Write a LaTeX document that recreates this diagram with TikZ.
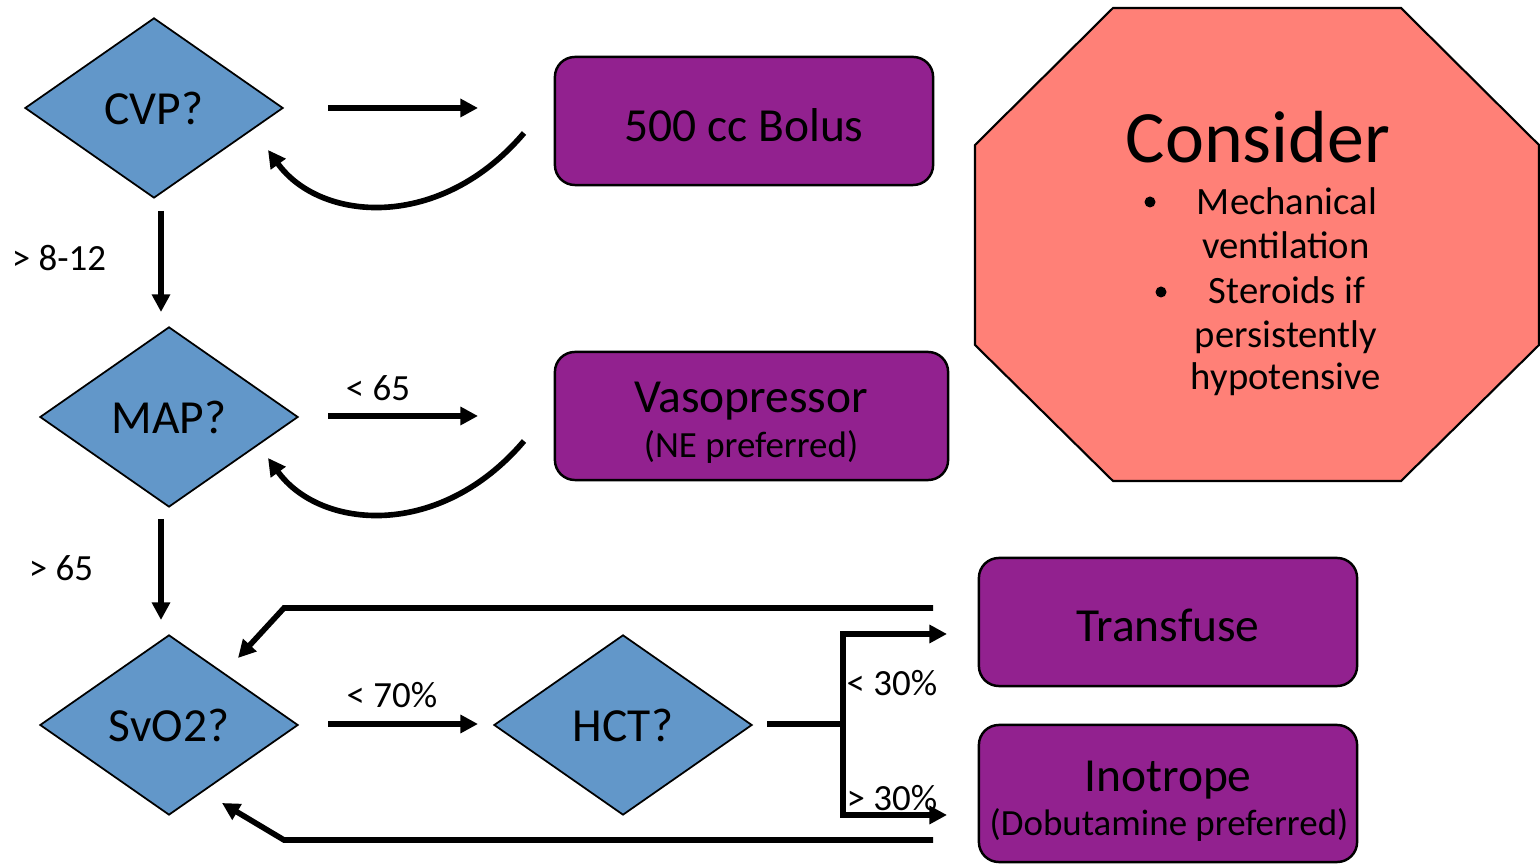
\documentclass[tikz,border=0pt]{standalone}
\usepackage{fontspec}
\setmainfont{Carlito}
\usetikzlibrary{arrows.meta,shapes.geometric}
\definecolor{dblue}{RGB}{98,151,201}
\definecolor{dpurple}{RGB}{146,33,143}
\definecolor{salmon}{RGB}{255,128,119}
\begin{document}
\begin{tikzpicture}[x=0.01cm,y=-0.01cm,
  dec/.style={diamond,draw=black,line width=0.5pt,fill=dblue,aspect=1.43,minimum width=2.58cm,minimum height=1.8cm,inner sep=0pt,font=\fontsize{13.5}{16}\selectfont},
  act/.style={rectangle,rounded corners=0.2cm,draw=black,line width=0.7pt,fill=dpurple,inner sep=0pt},
  big/.style={font=\fontsize{13.5}{16}\selectfont,inner sep=0pt,anchor=base},
  small/.style={font=\fontsize{10.5}{12}\selectfont,inner sep=0pt,anchor=base},
  arr/.style={line width=1.6pt,-{Triangle[length=5pt,width=5pt]}},
  ln/.style={line width=1.6pt},
  lbl/.style={font=\fontsize{10.5}{12}\selectfont,inner sep=0pt},
  oct/.style={font=\fontsize{11}{13}\selectfont,inner sep=0pt,anchor=base},
  bul/.style={circle,fill=black,inner sep=0pt,minimum size=0.11cm}]
\useasboundingbox (0,0) rectangle (1540,865);

% octagon
\draw[fill=salmon,line width=0.6pt] (1113,8) -- (1401,8) -- (1539,145) -- (1539,345) -- (1401,481) -- (1113,481) -- (975,345) -- (975,145) -- cycle;
\node[inner sep=0pt,anchor=base,font=\fontsize{21}{24}\selectfont] (cons) at (1258,163) {Consider};
\node[bul] (b1) at (1150,202) {};
\node[bul] (b2) at (1161,292) {};
\node[oct] (t1) at (1287,215) {Mechanical};
\node[oct] (t2) at (1286,259) {ventilation};
\node[oct] (t3) at (1287,304) {Steroids if};
\node[oct] (t4) at (1286,348) {persistently};
\node[oct] (t5) at (1286,390) {hypotensive};

% decisions
\node[dec] (cvp) at (154,108) {CVP?};
\node[dec] (map) at (169,417) {MAP?};
\node[dec] (svo) at (169,725) {SvO2?};
\node[dec] (hct) at (623,725) {HCT?};

% actions
\node[act,minimum width=3.78cm,minimum height=1.28cm] (bolus) at (744,121) {};
\node[big] (bolust) at (744,142) {500 cc Bolus};
\node[act,minimum width=3.93cm,minimum height=1.28cm] (vaso) at (751.5,416) {};
\node[big] (vasot) at (751,413) {Vasopressor};
\node[small] (vasos) at (751,458) {(NE preferred)};
\node[act,minimum width=3.78cm,minimum height=1.28cm] (trans) at (1168,622) {};
\node[big] (transt) at (1168,642) {Transfuse};
\node[act,minimum width=3.78cm,minimum height=1.37cm] (ino) at (1168,793.5) {};
\node[big] (inot) at (1168,792) {Inotrope};
\node[small] (inos) at (1169,836) {(Dobutamine preferred)};

% connector ends
\coordinate (a1s) at (328,108); \coordinate (a1e) at (478,108);
\coordinate (c1s) at (524,133); \coordinate (c1e) at (268,150);
\coordinate (d1s) at (161,211); \coordinate (d1e) at (161,312);
\coordinate (a2s) at (328,416); \coordinate (a2e) at (478,416);
\coordinate (c2s) at (524,441); \coordinate (c2e) at (268,458);
\coordinate (d2s) at (161,519); \coordinate (d2e) at (161,620);
\coordinate (a3s) at (328,724); \coordinate (a3e) at (478,724);
\coordinate (ts) at (933,608); \coordinate (tk) at (284,608); \coordinate (te) at (238,658);
\coordinate (is) at (933,840); \coordinate (ik) at (284,840); \coordinate (ie) at (222,803);
\coordinate (hs) at (767,724); \coordinate (hj) at (843,724);
\coordinate (hu) at (843,634); \coordinate (hue) at (947,634);
\coordinate (hd) at (843,815); \coordinate (hde) at (947,815);

\draw[arr] (a1s) -- (a1e);
\draw[arr] (c1s) .. controls (440,232) and (320,222) .. (c1e);
\draw[arr] (d1s) -- (d1e);
\draw[arr] (a2s) -- (a2e);
\draw[arr] (c2s) .. controls (440,540) and (320,530) .. (c2e);
\draw[arr] (d2s) -- (d2e);
\draw[arr] (a3s) -- (a3e);
\draw[arr] (ts) -- (tk) -- (te);
\draw[arr] (is) -- (ik) -- (ie);
\draw[ln] (hs) -- (hj);
\draw[arr] (hj) -- (hu) -- (hue);
\draw[arr] (hj) -- (hd) -- (hde);

% labels
\node[lbl] (l1) at (59,258) {> 8-12};
\node[lbl] (l2) at (378,388) {< 65};
\node[lbl] (l3) at (61,568) {> 65};
\node[lbl] (l4) at (392,695) {< 70\%};
\node[lbl] (l5) at (892,683) {< 30\%};
\node[lbl] (l6) at (892,798) {> 30\%};
\end{tikzpicture}
\end{document}
